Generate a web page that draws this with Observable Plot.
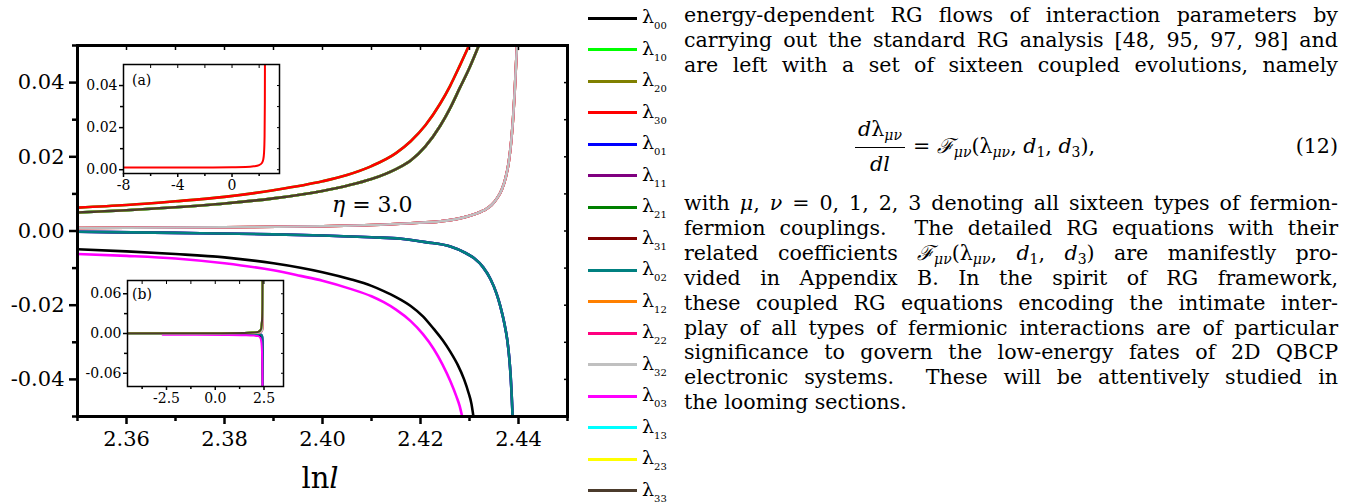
<!DOCTYPE html>
<html><head><meta charset="utf-8">
<script src="https://cdn.jsdelivr.net/npm/d3@7"></script>
<script src="https://cdn.jsdelivr.net/npm/@observablehq/plot@0.6"></script>
<style>
html,body{margin:0;padding:0;background:#fff;}
body{width:1352px;height:504px;overflow:hidden;position:relative;font-family:"DejaVu Serif",serif;color:#000;}
.abs{position:absolute;}
.para{position:absolute;left:684px;width:654px;font-size:20.6px;line-height:24.9px;}
.para div{text-align:justify;text-align-last:justify;}
.para div.last{text-align-last:left;}
sub{font-size:0.68em;line-height:0;vertical-align:-0.3em;}
.lg-line{position:absolute;height:3px;width:49px;left:588px;}
.lg-text{position:absolute;left:642px;font-size:19px;line-height:20px;}
.lg-text sub{font-size:10px;vertical-align:-0.6em;}
</style></head><body>
<div id="main" class="abs" style="left:0;top:0"></div>
<div id="insetA" class="abs" style="left:63px;top:59px"></div>
<div id="insetB" class="abs" style="left:67px;top:275px"></div>
<div id="legend"></div>
<div class="abs" style="left:132px;top:73px;font-size:14px;line-height:14px">(a)</div>
<div class="abs" style="left:132px;top:287px;font-size:14px;line-height:14px">(b)</div>
<div class="abs" style="left:332px;top:193px;font-size:22px;line-height:24px"><i>η</i> = 3.0</div>
<div class="abs" style="left:270px;top:462px;width:100px;text-align:center;font-size:29px;line-height:32px">ln<i>l</i></div>

<div class="para" style="top:3px">
<div>energy-dependent RG flows of interaction parameters by</div>
<div>carrying out the standard RG analysis [48, 95, 97, 98] and</div>
<div>are left with a set of sixteen coupled evolutions, namely</div>
</div>
<div class="abs" style="left:850px;top:117px;width:60px;text-align:center;font-size:20.6px;line-height:24.9px"><i>d</i>λ<sub><i>μν</i></sub></div>
<div class="abs" style="left:855px;top:147px;width:50px;height:1.3px;background:#000"></div>
<div class="abs" style="left:850px;top:152px;width:60px;text-align:center;font-size:20.6px;line-height:24.9px"><i>dl</i></div>
<div class="abs" style="left:913px;top:134px;font-size:20.6px;line-height:24.9px">= <i>ℱ</i><sub><i>μν</i></sub>(λ<sub><i>μν</i></sub>, <i>d</i><sub>1</sub>, <i>d</i><sub>3</sub>),</div>
<div class="abs" style="left:1200px;top:134px;width:138px;text-align:right;font-size:20.6px;line-height:24.9px">(12)</div>
<div class="para" style="top:191px">
<div>with <i>μ</i>, <i>ν</i> = 0, 1, 2, 3 denoting all sixteen types of fermion-</div>
<div>fermion couplings.&nbsp; The detailed RG equations with their</div>
<div>related coefficients <i>ℱ</i><sub><i>μν</i></sub>(λ<sub><i>μν</i></sub>, <i>d</i><sub>1</sub>, <i>d</i><sub>3</sub>) are manifestly pro-</div>
<div>vided in Appendix B. In the spirit of RG framework,</div>
<div>these coupled RG equations encoding the intimate inter-</div>
<div>play of all types of fermionic interactions are of particular</div>
<div>significance to govern the low-energy fates of 2D QBCP</div>
<div>electronic systems.&nbsp; These will be attentively studied in</div>
<div class="last">the looming sections.</div>
</div>

<script>
// ---------- legend / series ----------
const subs = ["00","10","20","30","01","11","21","31","02","12","22","32","03","13","23","33"];
const colors = ["#000000","#00ff00","#808000","#ff0000","#0000ff","#800080","#008000","#800000",
                "#008080","#ff8000","#ff0080","#c0c0c0","#ff00ff","#00ffff","#ffff00","#4b3b2c"];
// which visible curve each coupling follows (overlapping ones are hidden beneath)
const follows = ["black","red","brown","red","teal","teal","brown","grey",
                 "teal","grey","grey","grey","magenta","brown","brown","brown"];

// ---------- main panel values (ln l, λ) ----------
const lnlRed   = [2.350,2.360,2.370,2.380,2.390,2.400,2.405,2.410,2.415,2.418,2.421,2.424,2.426,2.428,2.4299];
const lamRed   = [0.0063,0.0070,0.0080,0.0092,0.0110,0.0134,0.0151,0.0175,0.0210,0.0242,0.0285,0.0343,0.0390,0.0445,0.0500];
const lnlBrown = [2.350,2.360,2.370,2.380,2.390,2.400,2.405,2.410,2.415,2.418,2.421,2.424,2.426,2.428,2.430,2.4319];
const lamBrown = [0.0050,0.0056,0.0064,0.0074,0.0088,0.0108,0.0122,0.0140,0.0167,0.0190,0.0228,0.0283,0.0330,0.0385,0.0440,0.0500];
const lnlGrey  = [2.350,2.380,2.400,2.410,2.418,2.424,2.428,2.431,2.433,2.4345,2.4356,2.4366,2.4374,2.4380,2.4385,2.4389,2.4392,2.4395,2.4397];
const lamGrey  = [0.0008,0.0010,0.0013,0.0016,0.0021,0.0026,0.0034,0.0045,0.0056,0.0070,0.0088,0.0112,0.0145,0.0185,0.0240,0.0305,0.0370,0.0450,0.0500];
const lnlTeal  = [2.350,2.370,2.390,2.400,2.410,2.416,2.421,2.4261,2.429,2.4309,2.4328,2.4343,2.4355,2.4363,2.4371,2.4377,2.4381,2.4384,2.4386,2.4388];
const lamTeal  = [-0.0002,-0.0005,-0.0009,-0.0012,-0.0017,-0.0021,-0.0030,-0.0042,-0.0058,-0.0073,-0.0098,-0.0130,-0.0168,-0.0203,-0.0248,-0.0293,-0.0340,-0.0391,-0.0440,-0.0500];
const lnlBlack = [2.350,2.360,2.370,2.380,2.390,2.3955,2.400,2.4057,2.410,2.4125,2.415,2.418,2.4205,2.4227,2.4245,2.4261,2.4276,2.4289,2.4298,2.4304,2.4308];
const lamBlack = [-0.0049,-0.0055,-0.0062,-0.0071,-0.0087,-0.0099,-0.0111,-0.0130,-0.0148,-0.0162,-0.0178,-0.0202,-0.0230,-0.0264,-0.0294,-0.0326,-0.0361,-0.0400,-0.0436,-0.0466,-0.0500];
const lnlMag   = [2.350,2.360,2.370,2.380,2.390,2.3955,2.400,2.4057,2.410,2.4125,2.415,2.418,2.4205,2.4227,2.4245,2.4261,2.4273,2.4280,2.4285];
const lamMag   = [-0.0062,-0.0067,-0.0074,-0.0087,-0.0106,-0.0121,-0.0134,-0.0156,-0.0176,-0.0192,-0.0212,-0.0243,-0.0278,-0.0318,-0.0360,-0.0405,-0.0445,-0.0472,-0.0500];

// ---------- inset (a): λ30 over a wide range ----------
const lnlA = [-8,-6,-4,-2,0,1,1.6,2.0,2.2,2.3,2.36,2.40,2.42,2.43];
const lamA = [0.0011,0.0011,0.0011,0.0011,0.0012,0.0013,0.0016,0.0022,0.0032,0.0048,0.008,0.016,0.032,0.060];

// ---------- inset (b): all couplings over a wide range ----------
const lnlBUp  = [-4.5,-2,0,1.5,2.0,2.2,2.3,2.36,2.40,2.42,2.43];
const lamBUp  = [0.0002,0.0003,0.0005,0.0009,0.0015,0.0025,0.004,0.008,0.020,0.045,0.090];
const lnlBGr  = [-4.5,0,2.0,2.3,2.40,2.43,2.445];
const lamBGr  = [0.0003,0.0004,0.0008,0.0015,0.004,0.015,0.090];
const lnlBTe  = [-4.5,0,2.0,2.3,2.40,2.43,2.445];
const lamBTe  = [-0.0002,-0.0003,-0.0006,-0.001,-0.003,-0.012,-0.090];
const lnlBBk  = [-4.5,0,2.0,2.3,2.38,2.41,2.43];
const lamBBk  = [-0.0005,-0.0008,-0.0015,-0.003,-0.008,-0.025,-0.090];
const lnlBMg  = [-2.7,-1,0.5,1.5,2.0,2.2,2.3,2.36,2.40,2.42,2.43];
const lamBMg  = [-0.002,-0.002,-0.0022,-0.0026,-0.0032,-0.004,-0.006,-0.012,-0.030,-0.060,-0.090];

// ---------- ticks ----------
const xMajor = [2.36,2.38,2.40,2.42,2.44];
const xMinor = [2.35,2.37,2.39,2.41,2.43,2.45];
const yMajor = [-0.04,-0.02,0,0.02,0.04];
const yMinor = [-0.05,-0.03,-0.01,0.01,0.03,0.05];
const xA = [-8,-4,0], xAMinor = [-6,-2,2];
const yA = [0,0.02,0.04], yAMinor = [0.01,0.03];
const xB = [-2.5,0,2.5], xBMinor = [-3.75,-1.25,1.25];
const yB = [-0.06,0,0.06], yBMinor = [-0.03,0.03];

const zip = (xs, ys) => xs.map((x, i) => ({x, y: ys[i]}));
const mainCurves = {red: zip(lnlRed,lamRed), brown: zip(lnlBrown,lamBrown), grey: zip(lnlGrey,lamGrey),
  teal: zip(lnlTeal,lamTeal), black: zip(lnlBlack,lamBlack), magenta: zip(lnlMag,lamMag)};
const bCurves = {red: zip(lnlBUp,lamBUp), brown: zip(lnlBUp,lamBUp), grey: zip(lnlBGr,lamBGr),
  teal: zip(lnlBTe,lamBTe), black: zip(lnlBBk,lamBBk), magenta: zip(lnlBMg,lamBMg)};

const none = () => "";
const serif = "DejaVu Serif";

const main = Plot.plot({
  width: 580, height: 504,
  marginLeft: 77, marginRight: 13, marginTop: 45, marginBottom: 88,
  x: {domain: [2.35, 2.45]},
  y: {domain: [-0.05, 0.05]},
  style: {fontFamily: serif, fontSize: "21px", color: "#000", background: "none", overflow: "visible"},
  marks: [
    ...subs.map((s, i) => Plot.line(mainCurves[follows[i]], {x: "x", y: "y", stroke: colors[i], strokeWidth: 2.6, curve: "monotone-x", clip: true})),
    Plot.frame({strokeWidth: 3}),
    Plot.axisX({ticks: xMajor, tickSize: 8, tickPadding: 7, strokeWidth: 2.5, tickFormat: d => d.toFixed(2), label: null}),
    Plot.axisX({ticks: xMinor, tickSize: 5, strokeWidth: 2.5, tickFormat: none, label: null}),
    Plot.axisY({ticks: yMajor, tickSize: 8, tickPadding: 5, strokeWidth: 2.5, tickFormat: d => d.toFixed(2), label: null}),
    Plot.axisY({ticks: yMinor, tickSize: 5, strokeWidth: 2.5, tickFormat: none, label: null}),
    Plot.axisX({anchor: "top", ticks: xMajor.concat(xMinor), tickSize: -4, strokeWidth: 1.5, tickFormat: none, label: null}),
    Plot.axisY({anchor: "right", ticks: yMajor.concat(yMinor), tickSize: -4, strokeWidth: 1.5, tickFormat: none, label: null})
  ]
});
document.getElementById("main").append(main);

function inset(opts) {
  return Plot.plot({
    width: 221, height: opts.height,
    marginLeft: 60, marginRight: 5, marginTop: 5, marginBottom: 25,
    x: {domain: opts.xd}, y: {domain: opts.yd},
    style: {fontFamily: serif, fontSize: "14px", color: "#000", background: "none", overflow: "visible"},
    marks: [
      Plot.frame({fill: "white", stroke: "none"}),
      ...opts.lines,
      Plot.frame({strokeWidth: 1.5}),
      Plot.axisX({ticks: opts.xt, tickSize: 4, tickPadding: 3, strokeWidth: 1.5, tickFormat: opts.xf, label: null}),
      Plot.axisX({ticks: opts.xm, tickSize: 3, strokeWidth: 1.5, tickFormat: none, label: null}),
      Plot.axisY({ticks: opts.yt, tickSize: 4, tickPadding: 2, strokeWidth: 1.5, tickFormat: d => d.toFixed(2), label: null}),
      Plot.axisY({ticks: opts.ym, tickSize: 3, strokeWidth: 1.5, tickFormat: none, label: null}),
      Plot.axisX({anchor: "top", ticks: opts.xt.concat(opts.xm), tickSize: -3, strokeWidth: 1, tickFormat: none, label: null}),
      Plot.axisY({anchor: "right", ticks: opts.yt.concat(opts.ym), tickSize: -3, strokeWidth: 1, tickFormat: none, label: null})
    ]
  });
}

document.getElementById("insetA").append(inset({
  height: 139, xd: [-8, 3.5], yd: [-0.0018, 0.05],
  xt: xA, xm: xAMinor, yt: yA, ym: yAMinor, xf: d => String(d),
  lines: [Plot.line(zip(lnlA, lamA), {x: "x", y: "y", stroke: colors[3], strokeWidth: 2, curve: "monotone-x", clip: true})]
}));

document.getElementById("insetB").append(inset({
  height: 136, xd: [-4.5, 3.5], yd: [-0.08, 0.08],
  xt: xB, xm: xBMinor, yt: yB, ym: yBMinor, xf: d => d.toFixed(1),
  lines: subs.map((s, i) => Plot.line(bCurves[follows[i]], {x: "x", y: "y", stroke: colors[i], strokeWidth: 2, curve: "monotone-x", clip: true}))
}));

// legend
const lg = document.getElementById("legend");
subs.forEach((s, i) => {
  const cy = 18 + 31.5 * i;
  const l = document.createElement("div");
  l.className = "lg-line"; l.style.top = (cy - 1.5) + "px"; l.style.background = colors[i];
  const t = document.createElement("div");
  t.className = "lg-text"; t.style.top = (cy - 12) + "px";
  t.innerHTML = "λ<sub>" + s + "</sub>";
  lg.append(l, t);
});
</script>
</body></html>
